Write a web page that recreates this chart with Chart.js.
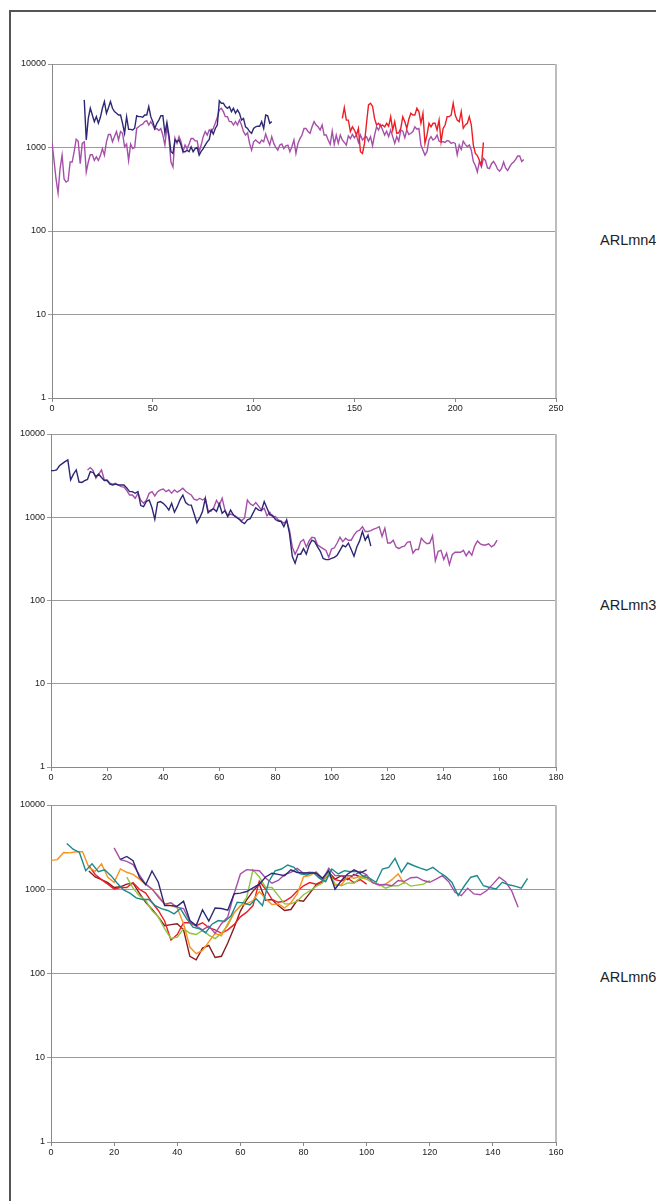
<!DOCTYPE html>
<html>
<head>
<meta charset="utf-8">
<script src="https://cdn.jsdelivr.net/npm/chart.js@4.4.1/dist/chart.umd.min.js"></script>
<style>
  html, body { margin: 0; padding: 0; background: #fff; }
  body { width: 656px; height: 1201px; overflow: hidden; position: relative; }
  .frame { position: absolute; left: 9px; top: 10px; width: 800px; height: 1400px;
           border-left: 2px solid #555; border-top: 2px solid #555; }
  canvas { position: absolute; left: 0; }
  .side { position: absolute; left: 600px; font: 14.5px "Liberation Sans", Arial, sans-serif;
          color: #222; white-space: nowrap; line-height: 16px; }
</style>
</head>
<body>
<div class="frame"></div>
<canvas id="c1" width="600" height="380" style="top:44px"></canvas>
<canvas id="c2" width="600" height="380" style="top:414px"></canvas>
<canvas id="c3" width="600" height="385" style="top:785px"></canvas>
<div class="side" style="top:232px">ARLmn4</div>
<div class="side" style="top:597px">ARLmn3</div>
<div class="side" style="top:969px">ARLmn6</div>
<script>
// ---------- tick labels ----------
const yTickValues = [1, 10, 100, 1000, 10000];
const c1XTicks = [0, 50, 100, 150, 200, 250];
const c2XTicks = [0, 20, 40, 60, 80, 100, 120, 140, 160, 180];
const c3XTicks = [0, 20, 40, 60, 80, 100, 120, 140, 160];

// ---------- chart 1 (ARLmn4) ----------
const c1NavyStart = 16, c1NavyStep = 1;
const c1Navy = [3720,1230,2230,2950,2450,2040,2340,1950,2300,2950,3550,2570,3000,3550,2950,2690,2570,2450,2450,1950,
  1480,2340,1650,1650,1620,1700,2400,2340,2340,2300,2450,2450,3090,2340,2040,1690,1950,2130,2400,2400,
  1480,2000,1410,890,850,1230,1170,1230,1070,890,890,930,890,1020,890,970,1000,810,900,970,
  1070,1170,1250,1620,1450,1690,1860,3620,3390,3390,3090,2950,3090,2690,2950,2570,2820,2570,2130,2230,
  1770,1690,1550,1480,1690,1770,1800,1800,2040,1690,2450,2400,1950,2040];
const c1PurpleStart = 0, c1PurpleStep = 1;
const c1Purple = [1150,700,420,285,560,810,420,385,400,670,670,890,1260,1190,640,1120,1170,510,670,820,
  820,700,770,700,800,970,810,1170,1430,1430,1170,1350,1550,1230,1550,1480,1020,1100,700,1100,
  970,1000,1690,1770,1860,1900,2040,2100,1860,2040,1860,1650,1690,1600,1690,1400,1070,1770,1300,670,
  585,1300,1120,1350,1170,890,1070,970,1100,1280,1280,1200,1200,890,1070,1350,1550,1410,1620,1550,
  1690,1950,2300,2820,2950,2690,2340,2340,2040,2040,1860,2040,1860,2130,1860,1550,1410,1500,1120,930,
  1170,1230,1170,1120,1230,1170,1450,1230,1070,1350,1120,1000,930,1070,1100,970,1050,1070,890,1020,
  1230,850,1120,1280,1410,1690,1690,1550,1480,1770,2040,1860,1770,1620,1860,1410,1410,1230,
  1090,1570,1090,1410,1120,1410,1230,1150,1070,1380,1280,1430,1310,1410,1150,1410,1230,1310,1350,1190,
  1350,1050,1410,1770,1620,1860,1620,1410,1570,1350,1620,1350,1120,1350,1190,1620,1570,1310,1620,1430,
  1480,1550,1770,1660,1690,1070,930,810,890,1230,1350,1230,1280,1410,1190,1170,1170,1150,1210,1190,
  1120,1150,1120,820,1070,950,1190,1090,1020,1070,930,680,610,510,680,585,740,700,570,560,
  640,680,625,550,520,560,670,570,530,585,640,670,720,790,790,680,720];
const c1RedStart = 144, c1RedStep = 1;
const c1Red = [2230,3010,2130,2130,1550,1770,1620,1410,1690,890,850,1120,1950,3240,3390,3100,2230,1860,1950,1800,
  1860,1770,1950,1800,2340,1620,2040,1480,1500,1700,2340,2040,1690,2180,2570,2450,2450,2950,2690,1950,
  2570,1120,1410,1950,1770,1950,1950,1620,2130,1170,1690,1860,2340,2340,2450,3390,2450,2130,2040,2690,
  1700,1860,1950,2340,1860,1070,850,800,700,610,1150];

// ---------- chart 2 (ARLmn3) ----------
const c2NavyStart = 0, c2NavyStep = 1;
const c2Navy = [3630,3630,3700,4150,4400,4660,4880,2810,3300,3700,2650,2620,2750,2850,3530,3450,3080,3300,3000,2760,
  2760,2500,2440,2500,2440,2450,2440,2250,2030,2030,1940,2030,1380,1340,1550,1610,1300,945,1500,1540,
  1470,1360,1220,1470,1150,1340,1620,1850,1500,1410,1400,1100,860,980,1170,1690,1130,1220,1260,1170,
  1450,1120,1200,1020,1220,1070,1000,950,880,840,930,960,1120,1300,1220,1200,1540,1280,1070,1050,
  940,900,890,770,930,640,340,280,360,360,420,360,460,530,510,440,390,320,310,310,
  320,330,350,400,460,440,490,410,340,440,520,675,530,610,450];
const c2PurpleStart = 13, c2PurpleStep = 1;
const c2Purple = [3700,3950,3650,2940,3300,3700,2810,2810,2560,2500,2560,2440,2330,2300,2100,1850,1850,1690,1940,1600,
  1470,1600,1940,2030,1800,2030,2130,2180,2030,2130,1950,2130,2000,2100,2230,2050,1940,1850,1650,1600,
  1690,1610,1690,1200,1180,1300,1600,1400,1690,1220,1040,1090,1060,1020,960,910,980,1610,1450,1380,
  1500,1360,1220,1280,1040,1150,1000,1020,930,900,850,910,700,440,360,420,510,540,440,520,
  575,565,465,440,420,400,330,415,430,490,575,510,560,530,530,610,675,700,770,675,
  675,690,720,740,770,590,740,490,490,530,440,420,440,450,500,510,370,410,410,560,
  510,480,490,600,300,390,400,310,370,270,355,380,380,380,400,345,390,350,450,520,
  480,465,465,480,440,465,530];

// ---------- chart 3 (ARLmn6) ----------
const c3OrangeStart = 0, c3OrangeStep = 2;
const c3Orange = [2200,2250,2730,2700,2790,2790,1820,1630,2000,1390,1210,1740,1590,1500,1320,1150,1000,840,670,640,
  600,390,206,172,188,237,300,280,390,525,640,670,735,940,770,660,670,600,690,880,
  1400,1450,1620,1350,1500,1100,1130,1410,1350,1420,1370,1210,1100,1150,1300,1520,1150];
const c3TealStart = 5, c3TealStep = 2;
const c3Teal = [3500,2990,2730,1660,2000,1620,1700,1450,1180,980,900,790,755,755,640,590,560,510,590,445,
  355,340,305,385,425,415,480,700,690,650,770,640,1230,1650,1740,1940,1820,1520,1480,1590,
  1350,1230,1740,1520,1660,1620,1620,1420,1350,1210,1740,1820,2320,1590,2050,1900,1780,1680,1820,1590,
  1420,1210,840,1100,1390,1450,1100,1050,1010,1210,1130,1090,1030,1350];
const c3NavyStart = 22, c3NavyStep = 2;
const c3Navy = [2260,2450,2180,1390,1130,1650,1210,640,640,630,720,425,370,570,420,600,590,565,880,900,
  940,1040,1150,1400,1550,1500,1450,1700,1580,1560,1560,1560,1350,1660,1000,1270,1520,1700,1560,1700];
const c3PurpleStart = 20, c3PurpleStep = 2;
const c3Purple = [3100,2250,2140,1960,1480,1150,1010,810,665,690,610,590,410,365,330,365,300,390,470,880,
  1520,1710,1680,1660,1360,1180,1270,1490,1590,1770,1550,1590,1550,1270,1770,1450,1450,1450,1450,1630,
  1480,1190,1130,1140,1100,1270,1240,1370,1390,1270,1210,1320,1450,1230,920,840,1030,880,860,960,
  1150,1390,1230,950,610];
const c3RedStart = 12, c3RedStep = 2;
const c3Red = [1900,1500,1300,1150,1010,1050,1050,1200,1000,900,700,560,420,250,290,400,400,370,400,350,
  330,300,330,380,470,535,640,1250,1000,760,700,720,800,950,1100,1200,1150,1250,1500,1300,
  1250,1350,1200,1300,1150];
const c3MaroonStart = 12, c3MaroonStep = 2;
const c3Maroon = [1650,1400,1300,1200,1050,1070,1150,1180,900,700,580,470,370,380,390,330,160,145,200,215,
  155,160,230,350,550,750,950,1150,740,755,640,560,575,740,720,900,1130,1210,1590,1320,
  1450,1300,1500,1400,1450];
const c3LimeStart = 24, c3LimeStep = 2;
const c3Lime = [1390,1030,840,735,560,470,340,260,270,340,300,290,325,285,260,300,370,525,630,800,
  1700,1400,1050,1050,840,670,670,720,860,960,1080,1190,1590,1160,1100,1190,1180,1370,1320,1190,
  1140,1030,1100,1100,1210,1090,1120,1150,1270];

// ---------- helpers ----------
function pts(start, step, vals) { return vals.map((v, i) => ({ x: start + i * step, y: v })); }
function ds(start, step, vals, color) {
  return { data: pts(start, step, vals), borderColor: color, backgroundColor: color,
           borderWidth: 1.4, pointRadius: 0, tension: 0, fill: false };
}
const NAVY = '#2c2874', PURPLE = '#a64fa8', RED = '#ee1d25', ORANGE = '#f7931e',
      TEAL = '#1b8a8c', LIME = '#8dc63f', MAROON = '#8b1a1d';
const FONT = { family: "'Liberation Sans', Arial, sans-serif", size: 9 };

const rightEdge = {
  id: 'rightEdge',
  afterDatasetsDraw(chart) {
    const { ctx, chartArea: a } = chart;
    ctx.save();
    ctx.strokeStyle = '#bdbdbd';
    ctx.lineWidth = 2;
    ctx.beginPath();
    ctx.moveTo(a.right, a.top);
    ctx.lineTo(a.right, a.bottom);
    ctx.stroke();
    ctx.restore();
  }
};

function makeChart(id, datasets, xTicks, yAxisWidth, xAxisHeight, padTop) {
  const xMax = xTicks[xTicks.length - 1];
  return new Chart(document.getElementById(id), {
    type: 'line',
    data: { datasets },
    plugins: [rightEdge],
    options: {
      responsive: false,
      animation: false,
      layout: { padding: { top: padTop, left: 0, right: 44, bottom: 0 } },
      plugins: { legend: { display: false }, tooltip: { enabled: false } },
      scales: {
        x: {
          type: 'linear', min: 0, max: xMax,
          afterBuildTicks: s => { s.ticks = xTicks.map(v => ({ value: v })); },
          afterFit: s => { s.height = xAxisHeight; },
          ticks: { autoSkip: false, maxRotation: 0, padding: 1, color: '#222', font: FONT,
                   callback: v => String(v) },
          grid: { drawOnChartArea: false, drawTicks: true, tickLength: 4, color: '#888', lineWidth: 1 },
          border: { color: '#888', width: 1 }
        },
        y: {
          type: 'logarithmic', min: 1, max: 10000,
          afterBuildTicks: s => { s.ticks = yTickValues.map(v => ({ value: v })); },
          afterFit: s => { s.width = yAxisWidth; },
          ticks: { padding: 2, color: '#222', font: FONT, callback: v => String(v) },
          grid: { color: '#9a9a9a', lineWidth: 1, drawTicks: true, tickLength: 4 },
          border: { color: '#888', width: 1 }
        }
      }
    }
  });
}

makeChart('c1', [
  ds(c1NavyStart, c1NavyStep, c1Navy, NAVY),
  ds(c1RedStart, c1RedStep, c1Red, RED),
  ds(c1PurpleStart, c1PurpleStep, c1Purple, PURPLE)
], c1XTicks, 52, 26, 20);

makeChart('c2', [
  ds(c2NavyStart, c2NavyStep, c2Navy, NAVY),
  ds(c2PurpleStart, c2PurpleStep, c2Purple, PURPLE)
], c2XTicks, 51, 27, 20);

makeChart('c3', [
  ds(c3NavyStart, c3NavyStep, c3Navy, NAVY),
  ds(c3TealStart, c3TealStep, c3Teal, TEAL),
  ds(c3PurpleStart, c3PurpleStep, c3Purple, PURPLE),
  ds(c3OrangeStart, c3OrangeStep, c3Orange, ORANGE),
  ds(c3LimeStart, c3LimeStep, c3Lime, LIME),
  ds(c3RedStart, c3RedStep, c3Red, RED),
  ds(c3MaroonStart, c3MaroonStep, c3Maroon, MAROON)
], c3XTicks, 51, 28, 20);
</script>
</body>
</html>
